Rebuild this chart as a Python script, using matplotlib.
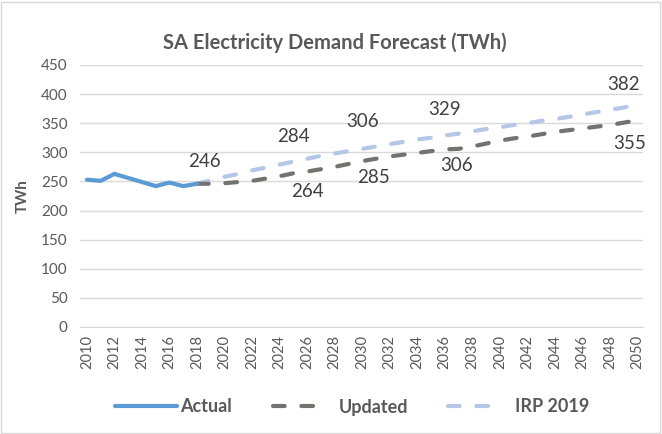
import matplotlib
matplotlib.use("Agg")
import matplotlib.pyplot as plt
from matplotlib.patches import Rectangle

plt.rcParams['font.family'] = ['Lato', 'DejaVu Sans']

actual_years = [2010, 2011, 2012, 2013, 2014, 2015, 2016, 2017, 2018]
actual_vals = [253, 251, 263, 256, 249, 242, 248, 242, 246]

fc_years = list(range(2018, 2051))
updated_vals = [246, 246, 247, 249, 251, 255, 259, 264, 267, 271, 275, 280, 285, 289,
                293, 296, 299, 302, 305, 306, 310, 315, 320, 324, 327, 331, 335, 338,
                341, 344, 347, 351, 355]
irp_vals = [246, 252, 258, 263, 269, 274, 279, 284, 289, 294, 298, 302, 306, 310,
            314, 318, 322, 325, 329, 332, 336, 340, 343, 347, 350, 354, 357, 361,
            365, 369, 373, 377, 382]

# label year -> (text, dx px, dy px)
irp_labels = {2018: ('246', 7, 22), 2025: ('284', 0, 25), 2030: ('306', 0, 27),
              2036: ('329', 0, 26), 2050: ('382', -14, 20)}
updated_labels = {2026: ('264', 0, -20), 2030: ('285', 11, -16),
                  2037: ('306', -2, -17), 2050: ('355', -8, -23)}

xticks = list(range(2010, 2051, 2))
yticks = list(range(0, 451, 50))

c_actual = '#5B9BD5'
c_upd = '#767171'
c_irp = '#B4C7E7'
c_text = '#595959'
c_lab = '#404040'

fig = plt.figure(figsize=(6.62, 4.34), dpi=100)
fig.patches.append(Rectangle((0.002, 0.003), 0.995, 0.993, transform=fig.transFigure,
                             fill=False, edgecolor='#D9D9D9', linewidth=1))
ax = fig.add_axes([80 / 662, 1 - 327 / 434, 563 / 662, 262 / 434])

lw = 3.0
dash = (2.8, 4.0)
h_irp, = ax.plot(fc_years, irp_vals, color=c_irp, lw=lw, dashes=dash,
                 dash_capstyle='round', label='IRP 2019', zorder=3)
h_upd, = ax.plot(fc_years, updated_vals, color=c_upd, lw=lw, dashes=dash,
                 dash_capstyle='round', label='Updated', zorder=4)
h_act, = ax.plot(actual_years, actual_vals, color=c_actual, lw=lw,
                 solid_capstyle='round', solid_joinstyle='round', label='Actual', zorder=5)

for yr, (txt, dx, dy) in irp_labels.items():
    ax.annotate(txt, (yr, irp_vals[fc_years.index(yr)]), xytext=(dx, dy),
                textcoords='offset pixels', ha='center', va='center',
                fontsize=13.5, color=c_lab)
for yr, (txt, dx, dy) in updated_labels.items():
    ax.annotate(txt, (yr, updated_vals[fc_years.index(yr)]), xytext=(dx, dy),
                textcoords='offset pixels', ha='center', va='center',
                fontsize=13.5, color=c_lab)

ax.set_xlim(2009.5, 2050.4)
ax.set_ylim(0, 450)
ax.set_xticks(xticks)
ax.set_xticklabels([str(x) for x in xticks], rotation=90, fontsize=10.5, color=c_text)
ax.set_yticks(yticks)
ax.set_yticklabels([str(y) for y in yticks], fontsize=11, color=c_text)
ax.tick_params(axis='y', length=0, pad=9)
ax.tick_params(axis='x', length=0, pad=6)
ax.grid(axis='y', color='#D9D9D9', lw=1)
ax.set_axisbelow(True)
for s in ['top', 'right', 'left']:
    ax.spines[s].set_visible(False)
ax.spines['bottom'].set_color('#D9D9D9')

ax.set_ylabel('TWh', fontsize=11, fontweight='bold', color=c_text, labelpad=8)
fig.text(335 / 662, 1 - 43 / 434, 'SA Electricity Demand Forecast (TWh)', ha='center',
         va='center', fontsize=14.5, fontweight='bold', color=c_text)

leg_y = 1 - 407 / 434
for h, lab, x0, hl, tp in [(h_act, 'Actual', 115, 3.43, 0.17),
                           (h_upd, 'Updated', 273, 2.6, 1.05),
                           (h_irp, 'IRP 2019', 448, 2.7, 1.0)]:
    lg = fig.legend([h], [lab], loc='center left', bbox_to_anchor=(x0 / 662, leg_y),
                    frameon=False, fontsize=13, handlelength=hl, handletextpad=tp,
                    borderpad=0, borderaxespad=0)
    for t in lg.get_texts():
        t.set_color(c_text)
        t.set_fontweight('bold')

fig.savefig('out.png', dpi=100)
